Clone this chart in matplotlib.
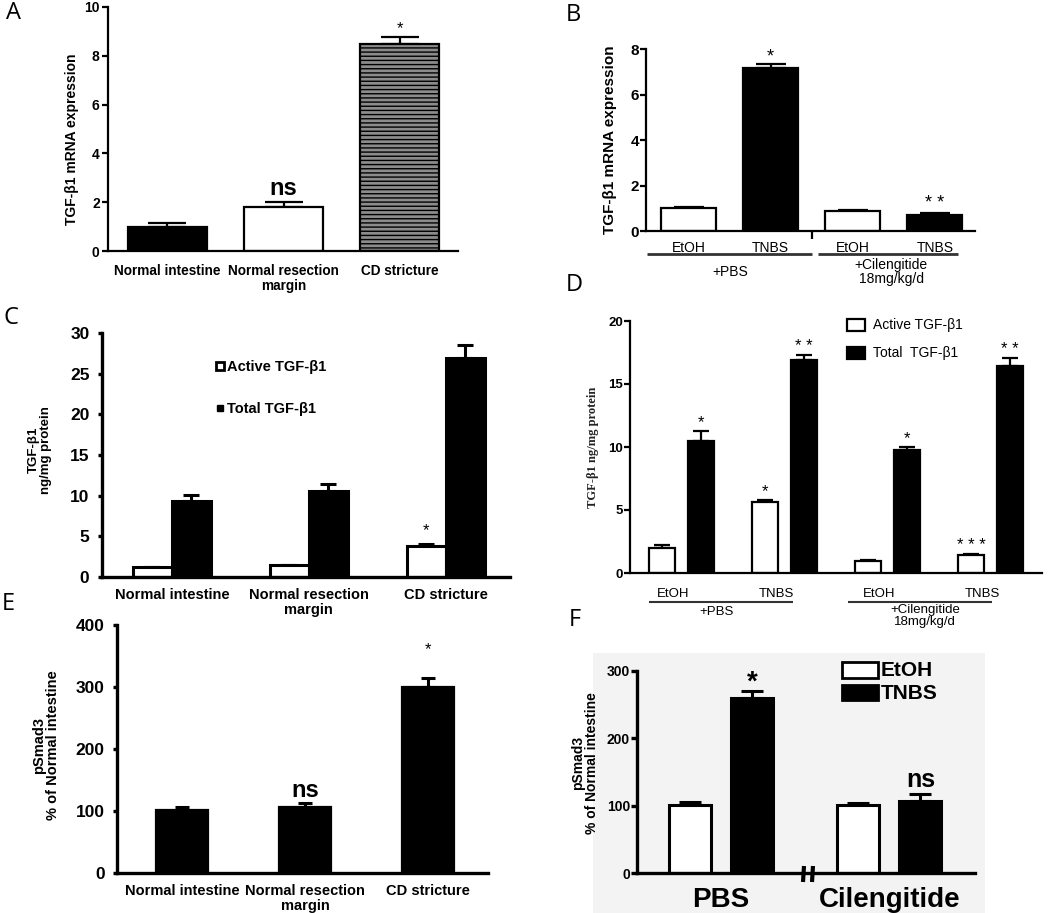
import numpy as np
import matplotlib
matplotlib.use("Agg")
import matplotlib.pyplot as plt
from matplotlib.patches import Rectangle
from matplotlib.lines import Line2D

plt.rcParams['font.family'] = ['Liberation Sans', 'DejaVu Sans']
plt.rcParams['hatch.linewidth'] = 1.0

# ---------------- data ----------------
A_labels = ["Normal intestine", "Normal resection\nmargin", "CD stricture"]
A_vals = [0.98, 1.8, 8.48]
A_errs = [1.15, 2.0, 8.77]

B_labels = ["EtOH", "TNBS", "EtOH", "TNBS"]
B_vals = [1.01, 7.16, 0.88, 0.70]
B_errs = [1.05, 7.34, 0.92, 0.78]
B_groups = ["+PBS", "+Cilengitide\n18mg/kg/d"]

C_labels = ["Normal intestine", "Normal resection\nmargin", "CD stricture"]
C_active = [1.23, 1.5, 3.8]
C_active_err = [1.23, 1.5, 4.05]
C_total = [9.3, 10.6, 26.9]
C_total_err = [10.1, 11.4, 28.5]

D_labels = ["EtOH", "TNBS", "EtOH", "TNBS"]
D_active = [1.98, 5.6, 0.95, 1.43]
D_active_err = [2.2, 5.8, 1.0, 1.5]
D_total = [10.5, 16.9, 9.76, 16.4]
D_total_err = [11.3, 17.3, 10.0, 17.1]
D_active_sig = ["", "*", "", "* * *"]
D_total_sig = ["*", "* *", "*", "* *"]

E_labels = ["Normal intestine", "Normal resection\nmargin", "CD stricture"]
E_vals = [102, 106, 300]
E_errs = [106, 113, 315]

F_groups = ["PBS", "Cilengitide"]
F_etoh = [101, 101]
F_etoh_err = [105, 104]
F_tnbs = [260, 107]
F_tnbs_err = [270, 117]

# ---------------- layout helpers ----------------
W, H = 1050, 913
fig = plt.figure(figsize=(W / 100, H / 100), dpi=100)


def axpx(x0, x1, ytop, ybot):
    return fig.add_axes([x0 / W, 1 - ybot / H, (x1 - x0) / W, (ybot - ytop) / H])


def T(x, y, s, **kw):
    kw.setdefault('ha', 'center')
    kw.setdefault('va', 'center')
    return fig.text(x / W, 1 - y / H, s, **kw)


def L(x0, x1, y0, y1, lw=1.5, color='black'):
    fig.add_artist(Line2D([x0 / W, x1 / W], [1 - y0 / H, 1 - y1 / H],
                          lw=lw, color=color, solid_capstyle='butt'))


def R(x0, x1, y0, y1, fc, lw=1.5):
    fig.add_artist(Rectangle((x0 / W, 1 - y1 / H), (x1 - x0) / W, (y1 - y0) / H,
                             facecolor=fc, edgecolor='black', lw=lw,
                             transform=fig.transFigure))


def style(ax, lw, ylim, xlim, yticks, tfs, tlen=4, tpad=2, bold=True):
    for s in ['top', 'right']:
        ax.spines[s].set_visible(False)
    for s in ['left', 'bottom']:
        ax.spines[s].set_linewidth(lw)
    ax.set_ylim(*ylim)
    ax.set_xlim(*xlim)
    ax.set_yticks(yticks)
    ax.tick_params(axis='y', length=tlen, width=lw, pad=tpad, labelsize=tfs)
    for t in ax.get_yticklabels():
        t.set_fontweight('bold' if bold else 'normal')
    ax.patch.set_alpha(0)


def ebar(ax, x, vals, errs, lw, cs):
    vals = np.asarray(vals, float)
    errs = np.asarray(errs, float)
    ax.errorbar(x, vals, yerr=[np.zeros_like(vals), errs - vals], fmt='none',
                ecolor='black', elinewidth=lw, capsize=cs, capthick=lw, zorder=1)


def sig(ax, x, y, s, off, **kw):
    if s:
        ax.annotate(s, (x, y), xytext=(0, off), textcoords='offset points',
                    ha='center', va='center', annotation_clip=False, **kw)


# ---------------- Panel A ----------------
axA = axpx(108, 458, 7, 251)
xA = np.arange(len(A_vals))
axA.bar(xA, A_vals, width=0.68, color=['black', 'white', '#8c8c8c'],
        edgecolor='black', linewidth=1.6, zorder=2)
axA.patches[2].set_hatch('----')
ebar(axA, xA, A_vals, A_errs, 1.6, 14)
style(axA, 1.6, (0, 10), (-0.51, 2.5), [0, 2, 4, 6, 8, 10], 10)
axA.set_xticks(xA, A_labels, fontsize=9.8, fontweight='bold', linespacing=1.1)
axA.tick_params(axis='x', length=0, pad=9)
T(72, 139, "TGF-β1 mRNA expression", rotation=90, fontsize=10, fontweight='bold')
sig(axA, 1, A_errs[1], "ns", 10, fontsize=17, fontweight='bold')
sig(axA, 2, A_errs[2], "*", 6, fontsize=12)

# ---------------- Panel B ----------------
axB = axpx(646, 975, 49, 231)
xB = np.arange(len(B_vals))
axB.bar(xB, B_vals, width=0.67, color=['white', 'black', 'white', 'black'],
        edgecolor='black', linewidth=1.6, zorder=2)
ebar(axB, xB, B_vals, B_errs, 1.6, 11)
style(axB, 1.6, (0, 8), (-0.52, 3.49), [0, 2, 4, 6, 8], 11, tpad=1)
axB.set_xticks(xB, B_labels, fontsize=10)
axB.tick_params(axis='x', length=0, pad=7)
axB.set_xticks([1.5], minor=True)
axB.tick_params(axis='x', which='minor', length=6, width=1.6)
T(610, 140, "TGF-β1 mRNA expression", rotation=90, fontsize=11, fontweight='bold')
L(647, 812, 254, 254, lw=2, color='#333333')
L(818, 958, 254, 254, lw=2, color='#333333')
T(730, 272, B_groups[0], fontsize=10)
T(891, 272, B_groups[1], fontsize=10, linespacing=1.0)
sig(axB, 1, B_errs[1], "*", 5, fontsize=13)
sig(axB, 3, B_errs[3], "* *", 7, fontsize=13)

# ---------------- Panel C ----------------
axC = axpx(102, 510, 333, 577)
xC = np.arange(len(C_total))
off_c, w_c = 0.143, 0.285
axC.bar(xC - off_c, C_active, width=w_c, color='white', edgecolor='black', linewidth=2.2, zorder=2)
axC.bar(xC + off_c, C_total, width=w_c, color='black', edgecolor='black', linewidth=2.2, zorder=2)
ebar(axC, xC - off_c, C_active, C_active_err, 2.2, 6)
ebar(axC, xC + off_c, C_total, C_total_err, 2.2, 6)
style(axC, 2.4, (0, 30), (-0.51, 2.47), [0, 5, 10, 15, 20, 25, 30], 12.5, tlen=3, tpad=6)
axC.set_xticks(xC, C_labels, fontsize=10.5, fontweight='bold', linespacing=1.1)
axC.tick_params(axis='x', length=0, pad=8)
T(40, 450, "TGF-β1\nng/mg protein", rotation=90, fontsize=9.5, fontweight='bold', linespacing=1.0)
R(216, 224, 362, 370, 'white', lw=2.0)
R(217, 223, 405, 411, 'black', lw=1.0)
T(227, 367, "Active TGF-β1", ha='left', fontsize=10.5, fontweight='bold')
T(227, 409, "Total TGF-β1", ha='left', fontsize=10.5, fontweight='bold')
sig(axC, 2 - off_c, C_active_err[2], "*", 10, fontsize=12)

# ---------------- Panel D ----------------
axD = axpx(630, 1042, 321, 573)
xD = np.arange(len(D_total))
off_d, w_d = 0.19, 0.26
axD.bar(xD - off_d, D_active, width=w_d, color='white', edgecolor='black', linewidth=1.6, zorder=2)
axD.bar(xD + off_d, D_total, width=w_d, color='black', edgecolor='black', linewidth=1.6, zorder=2)
ebar(axD, xD - off_d, D_active, D_active_err, 1.6, 6)
ebar(axD, xD + off_d, D_total, D_total_err, 1.6, 6)
style(axD, 1.6, (0, 20), (-0.5, 3.5), [0, 5, 10, 15, 20], 9.5, tpad=1)
axD.set_xticks(xD - 0.08, D_labels, fontsize=9.5)
axD.tick_params(axis='x', length=0, pad=11)
T(593, 447, "TGF-β1 ng/mg protein", rotation=90, fontsize=9, fontweight='bold',
  family=['Liberation Serif', 'DejaVu Serif'], color='#222222')
R(847, 865, 319, 331, 'white', lw=1.6)
R(847, 865, 347, 359, 'black', lw=1.6)
T(873, 325, "Active TGF-β1", ha='left', fontsize=10)
T(873, 353, "Total  TGF-β1", ha='left', fontsize=10)
L(649, 793, 602, 602, lw=1.5, color='#333333')
L(848, 992, 602, 602, lw=1.5, color='#333333')
T(717, 612, "+PBS", fontsize=9.5)
T(925, 616, "+Cilengitide\n18mg/kg/d", fontsize=9.5, linespacing=1.0)
for i in range(len(xD)):
    sig(axD, xD[i] - off_d, D_active_err[i], D_active_sig[i], 6, fontsize=12)
    sig(axD, xD[i] + off_d, D_total_err[i], D_total_sig[i], 6, fontsize=12)

# ---------------- Panel E ----------------
axE = axpx(117, 488, 625, 873)
xE = np.arange(len(E_vals))
axE.bar(xE, E_vals, width=0.42, color='black', edgecolor='black', linewidth=1.6, zorder=2)
ebar(axE, xE, E_vals, E_errs, 2.2, 5)
style(axE, 2.4, (0, 400), (-0.53, 2.49), [0, 100, 200, 300, 400], 12.5, tlen=3, tpad=6)
axE.set_xticks(xE, E_labels, fontsize=10.5, fontweight='bold', linespacing=1.1)
axE.tick_params(axis='x', length=0, pad=8)
T(46, 745, "pSmad3\n% of Normal intestine", rotation=90, fontsize=10.5, fontweight='bold', linespacing=1.0)
sig(axE, 1, E_errs[1], "ns", 9, fontsize=17, fontweight='bold')
sig(axE, 2, E_errs[2], "*", 20, fontsize=12)

# ---------------- Panel F ----------------
fig.add_artist(Rectangle((593 / W, 0), (985 - 593) / W, (913 - 653) / H,
                         facecolor='#f3f3f3', edgecolor='none', transform=fig.transFigure, zorder=0))
axF = axpx(637, 975, 671, 873)
xF = np.arange(len(F_groups))
off_f, w_f = 0.185, 0.25
axF.bar(xF - off_f, F_etoh, width=w_f, color='white', edgecolor='black', linewidth=2.2, zorder=2)
axF.bar(xF + off_f, F_tnbs, width=w_f, color='black', edgecolor='black', linewidth=2.2, zorder=2)
ebar(axF, xF - off_f, F_etoh, F_etoh_err, 2.2, 8)
ebar(axF, xF + off_f, F_tnbs, F_tnbs_err, 2.2, 8)
style(axF, 2.4, (0, 300), (-0.5, 1.51), [0, 100, 200, 300], 10, tpad=1)
axF.set_xticks(xF, F_groups, fontsize=20, fontweight='bold')
axF.tick_params(axis='x', length=0, pad=10)
T(585, 763, "pSmad3\n% of Normal intestine", rotation=90, fontsize=10, fontweight='bold', linespacing=1.0)
L(803, 804, 882, 866, lw=3)
L(812, 813, 882, 866, lw=3)
R(842, 878, 662, 678, 'white', lw=2.0)
R(842, 878, 685, 700, 'black', lw=2.0)
T(881, 670, "EtOH", ha='left', fontsize=15, fontweight='bold')
T(881, 693, "TNBS", ha='left', fontsize=15, fontweight='bold')
sig(axF, 0 + off_f, F_tnbs_err[0], "*", 6, fontsize=20, fontweight='bold')
sig(axF, 1 + off_f, F_tnbs_err[1], "ns", 10, fontsize=18, fontweight='bold')

# ---------------- panel letters ----------------
for (x, y, s) in [(13, 13, "A"), (573, 15, "B"), (11, 318, "C"), (574, 285, "D"),
                  (8, 604, "E"), (575, 620, "F")]:
    T(x, y, s, fontsize=17, family=['Open Sans', 'DejaVu Sans'])

fig.savefig("out.png", dpi=100)
